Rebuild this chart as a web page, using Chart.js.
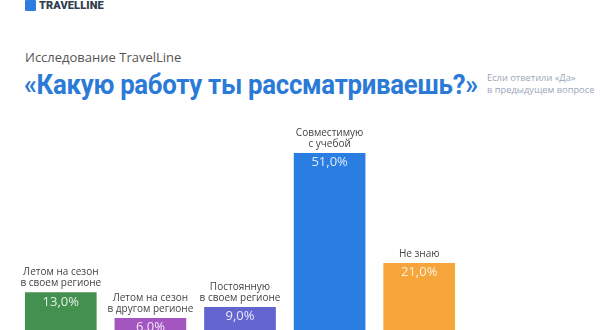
<!DOCTYPE html>
<html>
<head>
<meta charset="utf-8">
<script src="https://cdn.jsdelivr.net/npm/chart.js@4"></script>
<style>
    body { margin: 0; width: 600px; height: 330px; overflow: hidden; background: #fff; font-family: "Open Sans", sans-serif; position: relative; }
    .logo { position: absolute; left: 25px; top: -1px; display: flex; align-items: center; }
    .logo .icon { width: 11px; height: 11px; background: #2b7de0; margin-right: 3px; border-radius: 1px; }
    .logo span { font-family: Roboto, sans-serif; font-weight: 900; font-size: 11px; color: #2f3d4e; letter-spacing: 0.1px; }
    .kicker { position: absolute; left: 25px; top: 48px; font-size: 13px; color: #555; }
    .title { position: absolute; left: 24px; top: 68px; font-family: Roboto, sans-serif; font-weight: 700; font-size: 28px; color: #2b7ad8; letter-spacing: -0.3px; transform: scaleX(0.92); transform-origin: left; white-space: nowrap; }
    .note { position: absolute; left: 487px; top: 72px; font-size: 9.3px; line-height: 12px; color: #9aa6ba; white-space: nowrap; }
    .box { position: absolute; left: 16px; top: 100px; width: 448px; height: 240px; }
</style>
</head>
<body>
<div class="logo"><div class="icon"></div><span>TRAVELLINE</span></div>
<div class="kicker">Исследование TravelLine</div>
<div class="title">«Какую работу ты рассматриваешь?»</div>
<div class="note">Если ответили «Да»<br>в предыдущем вопросе</div>
<div class="box"><canvas id="chart"></canvas></div>
<script>
var categories = [
    ["Летом на сезон", "в своем регионе"],
    ["Летом на сезон", "в другом регионе"],
    ["Постоянную", "в своем регионе"],
    ["Совместимую", "с учебой"],
    ["Не знаю"]
];
var values = [13, 6, 9, 51, 21];
var colors = ["#44914f", "#a456c0", "#6465d1", "#2a7de1", "#f6a53a"];

var barLabels = {
    id: "barLabels",
    afterDatasetsDraw: function (chart) {
        var ctx = chart.ctx;
        var meta = chart.getDatasetMeta(0);
        ctx.save();
        ctx.textAlign = "center";
        meta.data.forEach(function (bar, i) {
            // value inside the bar
            ctx.fillStyle = "rgba(255,255,255,0.85)";
            ctx.font = "13px 'Open Sans'";
            ctx.textBaseline = "top";
            ctx.fillText(values[i].toFixed(1).replace(".", ",") + "%", bar.x, bar.y + 3);
            // category above the bar
            ctx.fillStyle = "#444";
            ctx.font = "10px 'Open Sans'";
            ctx.textBaseline = "middle";
            var lines = categories[i];
            lines.forEach(function (line, j) {
                ctx.fillText(line, bar.x, bar.y - 9 - (lines.length - 1 - j) * 11);
            });
        });
        ctx.restore();
    },
};

new Chart(document.getElementById("chart").getContext("2d"), {
    type: "bar",
    data: {
        labels: categories,
        datasets: [
            {
                data: values,
                backgroundColor: colors,
                barPercentage: 0.8,
                categoryPercentage: 1,
            },
        ],
    },
    options: {
        responsive: true,
        maintainAspectRatio: false,
        animation: false,
        layout: { padding: { top: 20 } },
        plugins: {
            legend: false,
            tooltip: { enabled: false },
        },
        scales: {
            x: { display: false },
            y: { display: false, min: 0, max: 60 },
        },
    },
    plugins: [barLabels],
});
</script>
</body>
</html>
